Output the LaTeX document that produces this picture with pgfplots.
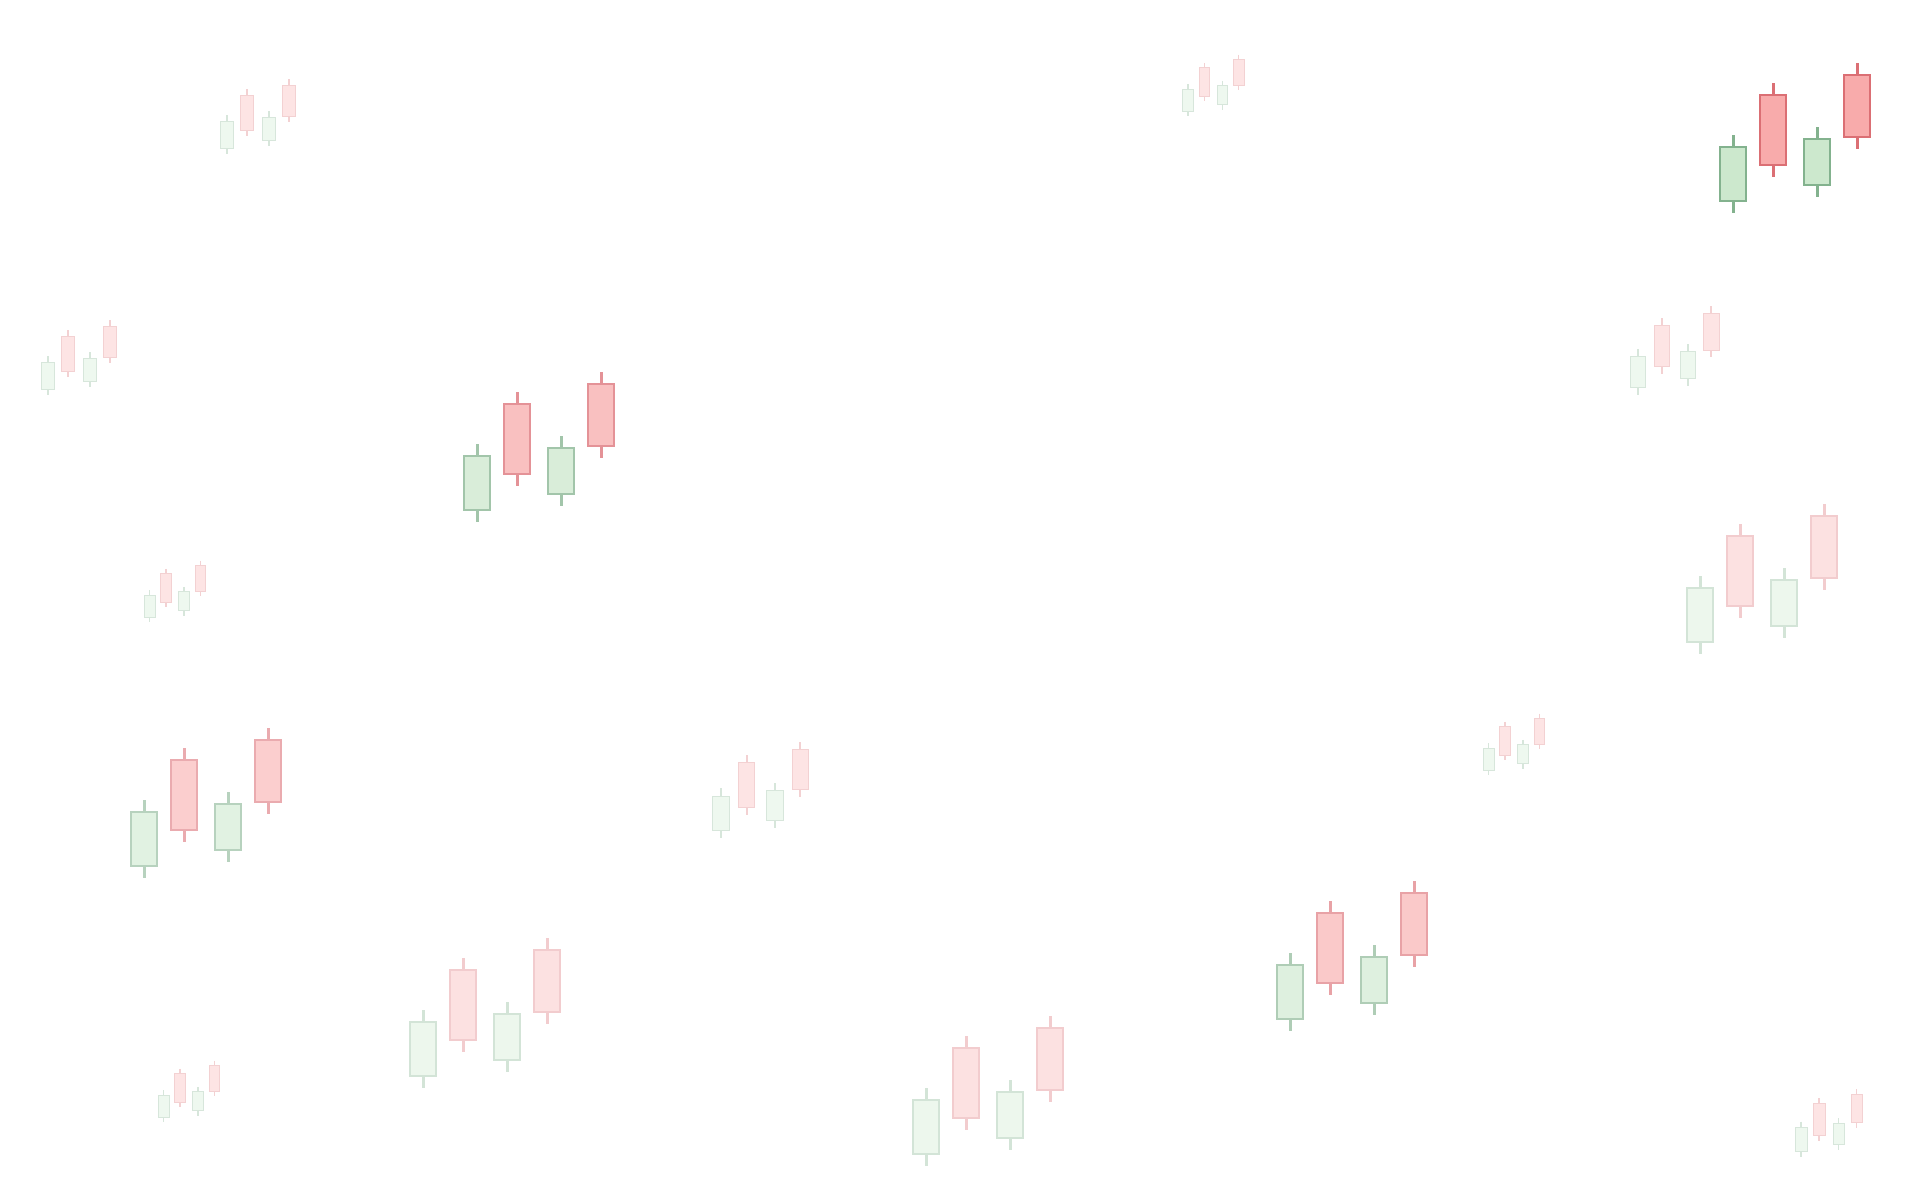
\documentclass[border=0pt]{standalone}
\usepackage{pgfplots}
\pgfplotsset{compat=1.18}
\definecolor{gF}{RGB}{200,230,201}
\definecolor{gS}{RGB}{122,172,134}
\definecolor{rF}{RGB}{247,165,165}
\definecolor{rS}{RGB}{216,100,106}
\newcommand{\mkcol}[2]{%
  \colorlet{#1gF}{gF!#2!white}\colorlet{#1gS}{gS!#2!white}%
  \colorlet{#1rF}{rF!#2!white}\colorlet{#1rS}{rS!#2!white}}
\mkcol{a}{93}\mkcol{b}{70}\mkcol{c}{54}\mkcol{d}{60}\mkcol{e}{33}\mkcol{f}{30}
% \candle{left}{centre}{right}{body top}{body bottom}{wick top}{wick bottom}{colour prefix}{scale}
\newcommand{\candle}[9]{%
  \addplot[draw=#8S, line width=1.5bp*#9, line cap=butt] coordinates {(#2,#6) (#2,#7)};
  \addplot[draw=#8S, fill=#8F, line width=0.7bp*#9] coordinates {(#1,#4) (#3,#4) (#3,#5) (#1,#5)} -- cycle;}
\begin{document}
\begin{tikzpicture}
\begin{axis}[hide axis, scale only axis, width=960bp, height=600bp,
  xmin=0, xmax=1920, ymin=0, ymax=1200, y dir=reverse, clip=false]
\addplot[draw=none] coordinates {(0,0) (1920,1200)};
% group top right (big, full)
\candle{1720}{1733}{1746}{147}{201}{135}{213}{ag}{1}
\candle{1760}{1773}{1786}{95}{165}{83}{177}{ar}{1}
\candle{1804}{1817}{1830}{139}{185}{127}{197}{ag}{1}
\candle{1844}{1857}{1870}{75}{137}{63}{149}{ar}{1}
% group centre left
\candle{464}{477}{490}{456}{510}{444}{522}{bg}{1}
\candle{504}{517}{530}{404}{474}{392}{486}{br}{1}
\candle{548}{561}{574}{448}{494}{436}{506}{bg}{1}
\candle{588}{601}{614}{384}{446}{372}{458}{br}{1}
% group left middle
\candle{131}{144}{157}{812}{866}{800}{878}{cg}{1}
\candle{171}{184}{197}{760}{830}{748}{842}{cr}{1}
\candle{215}{228}{241}{804}{850}{792}{862}{cg}{1}
\candle{255}{268}{281}{740}{802}{728}{814}{cr}{1}
% group right centre low
\candle{1277}{1290}{1303}{965}{1019}{953}{1031}{dg}{1}
\candle{1317}{1330}{1343}{913}{983}{901}{995}{dr}{1}
\candle{1361}{1374}{1387}{957}{1003}{945}{1015}{dg}{1}
\candle{1401}{1414}{1427}{893}{955}{881}{967}{dr}{1}
% group right middle (faint)
\candle{1687}{1700}{1713}{588}{642}{576}{654}{eg}{1}
\candle{1727}{1740}{1753}{536}{606}{524}{618}{er}{1}
\candle{1771}{1784}{1797}{580}{626}{568}{638}{eg}{1}
\candle{1811}{1824}{1837}{516}{578}{504}{590}{er}{1}
% group bottom left (faint)
\candle{410}{423}{436}{1022}{1076}{1010}{1088}{eg}{1}
\candle{450}{463}{476}{970}{1040}{958}{1052}{er}{1}
\candle{494}{507}{520}{1014}{1060}{1002}{1072}{eg}{1}
\candle{534}{547}{560}{950}{1012}{938}{1024}{er}{1}
% group bottom centre (faint)
\candle{913}{926}{939}{1100}{1154}{1088}{1166}{eg}{1}
\candle{953}{966}{979}{1048}{1118}{1036}{1130}{er}{1}
\candle{997}{1010}{1023}{1092}{1138}{1080}{1150}{eg}{1}
\candle{1037}{1050}{1063}{1028}{1090}{1016}{1102}{er}{1}
% small group top left
\candle{220.5}{227}{233.5}{121}{148}{115}{154}{fg}{0.5}
\candle{240.5}{247}{253.5}{95}{130}{89}{136}{fr}{0.5}
\candle{262.5}{269}{275.5}{117}{140}{111}{146}{fg}{0.5}
\candle{282.5}{289}{295.5}{85}{116}{79}{122}{fr}{0.5}
% small group far left
\candle{41.5}{48}{54.5}{362}{389}{356}{395}{fg}{0.5}
\candle{61.5}{68}{74.5}{336}{371}{330}{377}{fr}{0.5}
\candle{83.5}{90}{96.5}{358}{381}{352}{387}{fg}{0.5}
\candle{103.5}{110}{116.5}{326}{357}{320}{363}{fr}{0.5}
% small group top centre
\candle{1182.7}{1188}{1193.3}{89}{111.1}{84.1}{116.1}{fg}{0.41}
\candle{1199.1}{1204.4}{1209.7}{67.7}{96.4}{62.8}{101.3}{fr}{0.41}
\candle{1217.1}{1222.4}{1227.7}{85.7}{104.6}{80.8}{109.5}{fg}{0.41}
\candle{1233.5}{1238.8}{1244.1}{59.5}{84.9}{54.6}{89.8}{fr}{0.41}
% small group left
\candle{144.2}{149.5}{154.8}{595}{617.1}{590.1}{622.1}{fg}{0.41}
\candle{160.6}{165.9}{171.2}{573.7}{602.4}{568.8}{607.3}{fr}{0.41}
\candle{178.6}{183.9}{189.2}{591.7}{610.6}{586.8}{615.5}{fg}{0.41}
\candle{195}{200.3}{205.6}{565.5}{590.9}{560.6}{595.8}{fr}{0.41}
% small group right
\candle{1483.2}{1488.5}{1493.8}{748}{770.1}{743.1}{775.1}{fg}{0.41}
\candle{1499.6}{1504.9}{1510.2}{726.7}{755.4}{721.8}{760.3}{fr}{0.41}
\candle{1517.6}{1522.9}{1528.2}{744.7}{763.6}{739.8}{768.5}{fg}{0.41}
\candle{1534}{1539.3}{1544.6}{718.5}{743.9}{713.6}{748.8}{fr}{0.41}
% small group bottom left
\candle{158.2}{163.5}{168.8}{1095}{1117.1}{1090.1}{1122.1}{fg}{0.41}
\candle{174.6}{179.9}{185.2}{1073.7}{1102.4}{1068.8}{1107.3}{fr}{0.41}
\candle{192.6}{197.9}{203.2}{1091.7}{1110.6}{1086.8}{1115.5}{fg}{0.41}
\candle{209}{214.3}{219.6}{1065.5}{1090.9}{1060.6}{1095.8}{fr}{0.41}
% group right upper
\candle{1630.3}{1638}{1645.7}{356}{387.9}{348.9}{394.9}{fg}{0.59}
\candle{1653.9}{1661.6}{1669.3}{325.3}{366.6}{318.2}{373.7}{fr}{0.59}
\candle{1679.9}{1687.6}{1695.3}{351.3}{378.4}{344.2}{385.5}{fg}{0.59}
\candle{1703.5}{1711.2}{1718.9}{313.5}{350.1}{306.4}{357.2}{fr}{0.59}
% group centre
\candle{712.7}{721}{729.3}{796}{830.6}{788.3}{838.2}{fg}{0.64}
\candle{738.3}{746.6}{754.9}{762.7}{807.5}{755}{815.2}{fr}{0.64}
\candle{766.5}{774.8}{783.1}{790.9}{820.3}{783.2}{828}{fg}{0.64}
\candle{792.1}{800.4}{808.7}{749.9}{789.6}{742.2}{797.3}{fr}{0.64}
% small group bottom right
\candle{1795.2}{1801}{1806.9}{1127}{1151.3}{1121.6}{1156.7}{fg}{0.45}
\candle{1813.2}{1819}{1824.9}{1103.6}{1135.1}{1098.2}{1140.5}{fr}{0.45}
\candle{1833}{1838.8}{1844.7}{1123.4}{1144.1}{1118}{1149.5}{fg}{0.45}
\candle{1851}{1856.8}{1862.7}{1094.6}{1122.5}{1089.2}{1127.9}{fr}{0.45}
\end{axis}
\end{tikzpicture}
\end{document}
